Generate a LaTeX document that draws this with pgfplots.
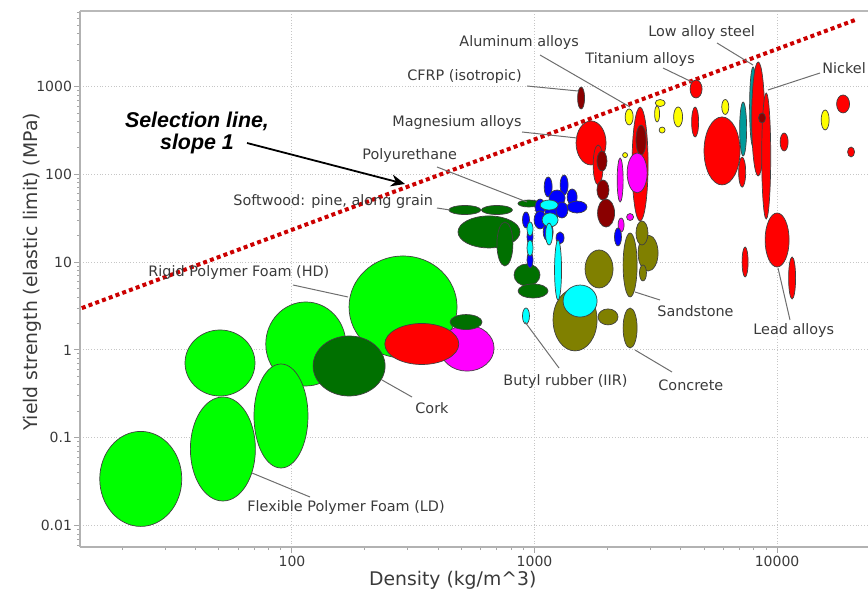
\documentclass[border=0pt]{standalone}
\usepackage{pgfplots}
\usepackage{pgfplotstable}
\pgfplotsset{compat=1.18}
\usetikzlibrary{arrows.meta}
\usepackage{fontspec}
\setmainfont{DejaVu Sans}
\newfontfamily\arialf{Liberation Sans}
\definecolor{txt}{HTML}{3A3A3A}
\definecolor{leadc}{HTML}{6E6E6E}
\definecolor{cG}{HTML}{00FF00}
\definecolor{cDG}{HTML}{007000}
\definecolor{cR}{HTML}{FF0000}
\definecolor{cDR}{HTML}{8A0000}
\definecolor{cM}{HTML}{FF00FF}
\definecolor{cY}{HTML}{FFFF00}
\definecolor{cT}{HTML}{009A9A}
\definecolor{cB}{HTML}{0000FF}
\definecolor{cC}{HTML}{00FFFF}
\definecolor{cO}{HTML}{808000}
\definecolor{sel}{HTML}{CC0000}

\pgfdeclareplotmark{ell}{%
  \pgfpathellipse{\pgfpointorigin}{\pgfpoint{\rx*0.5pt}{0pt}}{\pgfpoint{0pt}{\ry*0.5pt}}%
  \pgfusepathqfillstroke}

% columns: density (kg/m^3), yield strength (MPa), half-width, half-height (px)
\pgfplotstableread{
x y rx ry
23.8 0.034 41 47.5
50.5 0.711 35 33
51.9 0.0745 32.5 52
114 1.17 40 42
90.1 0.177 27 52
287 3.09 54 51
}\tabG
\pgfplotstableread{
x y rx ry
172 0.657 36 30
516 39.3 16 4.5
700 39.3 15.5 4.5
948 46.6 11 3.5
649 22.1 31 16
755 16.1 8 22
931 7.15 13 11
986 4.70 15 7
}\tabDG
\pgfplotstableread{
x y rx ry
522 2.08 16 7.5
}\tabDGb
\pgfplotstableread{
x y rx ry
527 1.05 27 23
}\tabMa
\pgfplotstableread{
x y rx ry
7244 329 3.5 27
7962 586 3.5 40
}\tabT
\pgfplotstableread{
x y rx ry
343 1.17 37 20.5
1710 228 15 22
1829 128 5 20
2723 131 8 57
4634 939 6 9
4592 395 3.5 15
5929 185 18 34
7178 106 3.5 15
8356 428 6.5 57
9018 162 4.5 63
10690 234 4 9
18710 634 6.5 9
20180 180 3.5 5
10000 17.9 12 27
7380 10.05 3 15
11530 6.61 3.5 21
}\tabR
\pgfplotstableread{
x y rx ry
1556 741 3.5 11
1897 142 5 10
1915 66.4 6 10
1972 36.3 8.5 14
2748 246 5 15
8670 439 3.5 5
}\tabDR
\pgfplotstableread{
x y rx ry
2649 104 10 20
2254 86.3 3 22
2477 32.7 3.5 3.5
2274 26.5 3 7
}\tabM
\pgfplotstableread{
x y rx ry
2455 451 4 8
2362 166 2.5 2.5
3296 650 5 3.5
3201 488 2.5 8
3357 320 3 3
3908 451 4.5 10
6113 586 3.5 7.5
15780 417 4 10
}\tabY
\pgfplotstableread{
x y rx ry
1469 2.20 22 31
1845 8.37 14 19
2009 2.38 10 8
2477 9.29 7 32
2938 12.7 10 18
2773 21.5 6 12
2799 7.54 3.5 8
2477 1.78 7 20
}\tabO
\pgfplotstableread{
x y rx ry
1138 71.9 4 10
1324 75.7 4 10
1429 55.3 5 8
1239 53.8 8 8
1497 42.5 10 6
1054 42.5 5 8
1191 37.3 8 6
1297 39.3 6 8
1054 30.3 6 9
922 30.3 3.5 8
1138 22.1 5 9
958 19.4 3 8
958 10.6 3 8
1274 18.9 4 6
2208 19.4 3.5 9
}\tabB
\pgfplotstableread{
x y rx ry
1148 44.8 9 5
1159 30.3 8 7
1148 20.9 3.5 11
958 23.9 3 7
958 14.5 3 8
1250 8.15 3.5 30
1541 3.61 17 16
922 2.44 3.5 8
}\tabC

\pgfplotsset{
  bub/.style={scatter, only marks, mark=ell,
    scatter/use mapped color={draw=black!75, fill=#1},
    mark options={line width=0.35pt},
    visualization depends on={\thisrow{rx}\as\rx},
    visualization depends on={\thisrow{ry}\as\ry}},
}

\begin{document}
\begin{tikzpicture}
\begin{axis}[
  scale only axis, width=394pt, height=268pt,
  xmode=log, ymode=log,
  xmin=13.37, xmax=23700, ymin=0.0057, ymax=7262,
  axis lines*=left,
  axis line style={-, draw=gray!60, line width=0.8pt},
  tick align=outside,
  major tick length=3pt, minor tick length=1.6pt,
  tick style={gray!70, line width=0.5pt},
  grid=major,
  major grid style={densely dotted, gray!45, line width=0.5pt},
  log ticks with fixed point,
  /pgf/number format/1000 sep={},
  /pgf/number format/assume math mode=true,
  tick label style={font=\fontsize{7}{8}\selectfont, text=txt},
  xticklabel style={yshift=2pt},
  yticklabel style={xshift=2.5pt},
  xlabel={Density (kg/m\textasciicircum{}3)},
  ylabel={Yield strength (elastic limit) (MPa)},
  xlabel style={at={(axis description cs:0.473,-0.0616)}, anchor=center, font=\fontsize{9.4}{11}\selectfont, text=txt},
  ylabel style={at={(axis description cs:-0.0609,0.513)}, anchor=center, font=\fontsize{9.4}{11}\selectfont, text=txt},
]
\addplot[bub=cG] table {\tabG};
\addplot[bub=cDG] table {\tabDG};
\addplot[bub=cM] table {\tabMa};
\addplot[bub=cT] table {\tabT};
\addplot[bub=cR] table {\tabR};
\addplot[bub=cDR] table {\tabDR};
\addplot[bub=cM] table {\tabM};
\addplot[bub=cDG] table {\tabDGb};
\addplot[bub=cY] table {\tabY};
\addplot[bub=cO] table {\tabO};
\addplot[bub=cB] table {\tabB};
\addplot[bub=cC] table {\tabC};
\addplot[sel, line width=2pt, dash pattern=on 2pt off 1.6pt, no marks] coordinates {(13.6,3.0) (21200,5800)};
\draw[gray!55, line width=1.2pt] (rel axis cs:0,1) -- (rel axis cs:1,1);
\coordinate (NW) at (rel axis cs:0,1);
\end{axis}
\begin{scope}[shift={(NW)}, x=0.5pt, y=-0.5pt, shift={(-80,-11)}]
  \begin{scope}[leadc, line width=0.5pt]
    \draw (540,55) -- (630,107);
    \draw (527,86) -- (578,91);
    \draw (522,132) -- (577,138);
    \draw (437,167) -- (527,202);
    \draw (437,208) -- (450,210);
    \draw (663,68) -- (692,82);
    \draw (717,43) -- (753,65);
    \draw (820,73) -- (768,90);
    \draw (293,285) -- (348,297);
    \draw (382,380) -- (412,397);
    \draw (252,473) -- (310,497);
    \draw (525,322) -- (559,368);
    \draw (635,350) -- (672,372);
    \draw (635,292) -- (660,300);
    \draw (778,268) -- (790,320);
  \end{scope}
  \begin{scope}[every node/.style={font=\fontsize{7.2}{8.6}\selectfont, text=txt, inner sep=0pt, anchor=west}]
    \node at (459,43) {Aluminum alloys};
    \node at (407,77) {CFRP (isotropic)};
    \node at (392,123) {Magnesium alloys};
    \node at (362,156) {Polyurethane};
    \node at (233,202) {Softwood: pine, along grain};
    \node at (585,60) {Titanium alloys};
    \node at (648,33) {Low alloy steel};
    \node at (822,68) {Nickel};
    \node at (148,273) {Rigid Polymer Foam (HD)};
    \node at (415,408) {Cork};
    \node at (247,508) {Flexible Polymer Foam (LD)};
    \node at (503,382) {Butyl rubber (IIR)};
    \node at (658,385) {Concrete};
    \node at (657,311) {Sandstone};
    \node at (753,331) {Lead alloys};
  \end{scope}
  \node[font=\arialf\bfseries\itshape\fontsize{10.7}{11}\selectfont, align=center, inner sep=0pt] at (197,133) {Selection line,\\slope 1};
  \draw[-{Stealth[length=7pt,width=6pt]}, line width=0.9pt] (247,143) -- (405,184);
  \pgfresetboundingbox
  \path[use as bounding box] (0,0) rectangle (868,594);
\end{scope}
\end{tikzpicture}
\end{document}
